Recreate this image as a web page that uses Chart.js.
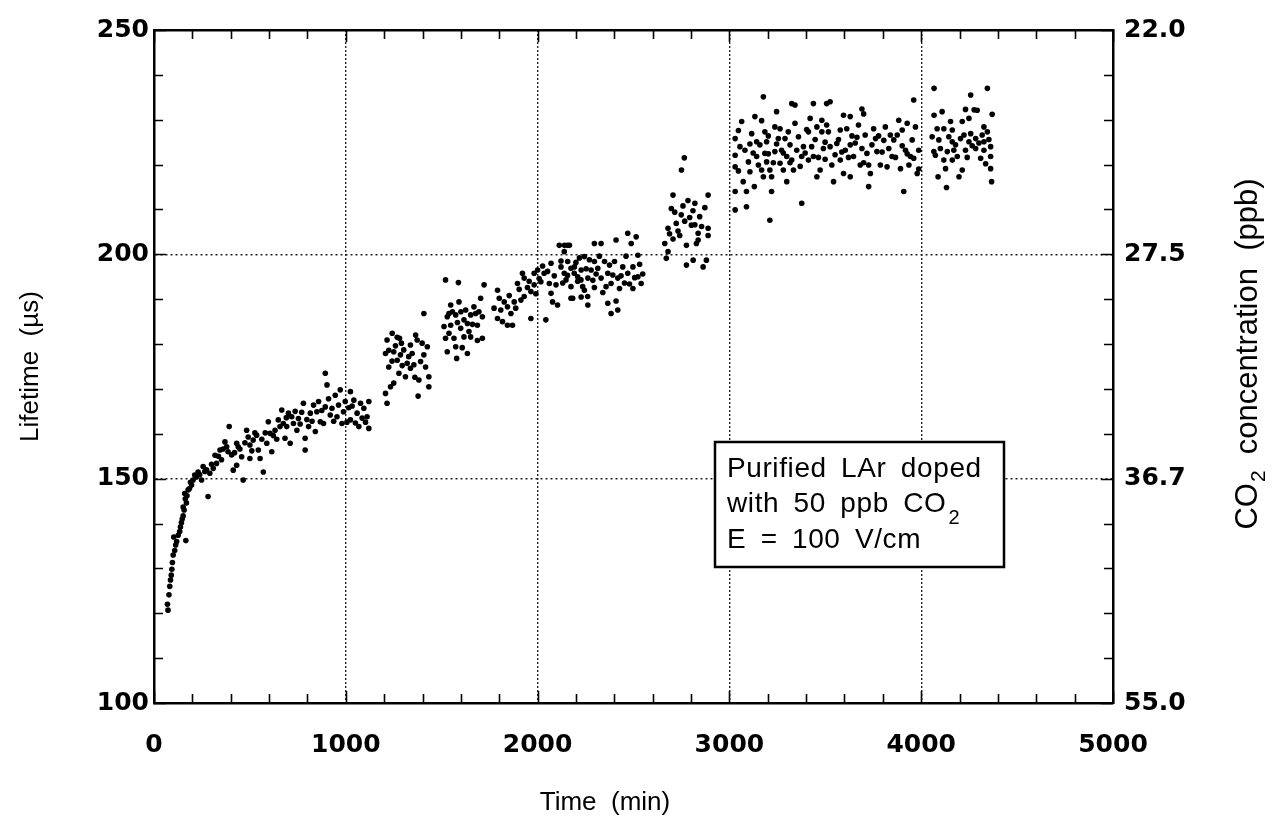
<!DOCTYPE html>
<html>
<head>
<meta charset="utf-8">
<script src="https://cdn.jsdelivr.net/npm/chart.js@4.4.1/dist/chart.umd.min.js"></script>
<style>
    html, body { margin: 0; padding: 0; background: #fff; }
    #wrap { width: 1281px; height: 820px; }
</style>
</head>
<body>
<div id="wrap"><canvas id="lifetimeChart" width="1281" height="820"></canvas></div>
<script>
// Time (min), lifetime (µs), one array per run segment
const runStart = [
    [73,120.7],[78,124.1],[86,127.4],[90,128.5],[96,131.3],[100,133],[103,137],[113,135.2],[126,137.4],[134,138.2],
    [143,140.2],[152,141.7],[152,143.7],[160,146.7],[166,136.2],[169,144.6],[178,147.5],[196,148.6],[204,149.7],[222,150.4],
    [230,151.5],[248,149.7],[256,152.7],[274,152],[282,146],[291,151.2],[309,152.3],[326,153.4],[344,156.4],[352,154.2],
    [370,158.2],[379,157.1],[392,161.6],[405,155.3],[413,151.9],[431,153],[431,157.9],[439,157.1],[457,154.9],[465,149.7],
    [483,160.8],[491,159.3],[500,154.5],[500,157.5],[517,158.6],[535,159.7],[544,156.4],[553,154.5],[570,151.5],[588,157.9],
    [596,162.7],[605,160.1],[614,156],[631,160.8],[648,163.1],[657,161.6],[666,165.3],[683,159],
    [70,122],[82,126],[93,129.8],[108,134],[118,136],[138,139.2],[147,141],[157,143],[163,145.5],[172,146.2],
    [185,147.8],[190,149.2],[212,150.8],[238,150.9],[265,151.6],[300,153.2],[318,155.2],[336,155],[360,156.6],[386,156],
    [420,155.8],[448,156.6],[474,158],[510,156.2],[526,160.2],[562,158.8],[580,160.2],[622,159.6],[640,158.8],[674,162.3],[690,163.6]
];
const runSecond = [
    [692,161.6],[701,164.6],[710,157.9],[727,162.3],[745,160.8],[753,163.4],[779,166.8],[788,159],[788,156.4],[806,161.6],
    [832,166.4],[841,160.5],[849,164.9],[867,162.7],[884,162.3],[893,166],[893,173.5],[902,170.9],[919,164.2],[928,165.7],
    [945,168.6],[954,163.8],[971,169.8],[980,162.3],[988,164.9],[1024,169.4],[1024,163.1],[1042,167.5],[1059,164.6],[1068,161.6],
    [1085,163.5],[1094,165.7],[1111,163.8],[1120,167.2],[1120,161.2],
    [718,163.8],[736,165],[762,162.2],[770,164.8],[797,163.2],[815,164.6],[824,162.8],[858,167.2],[875,165.2],[910,167.8],
    [937,162.8],[962,166.4],[997,167.2],[1006,162.6],[1015,165.8],[1033,166.2],[1050,162.4],[1077,166.8],[1103,162.6]
];
const runThird = [
    [1207,177.9],[1207,169],[1215,180.9],[1215,166.8],[1224,174.9],[1233,170.5],[1250,178.3],[1250,171.3],[1268,181.5],[1268,176.4],
    [1277,173.5],[1280,181.3],[1285,177.6],[1302,178.7],[1311,172.7],[1320,175.7],[1337,179.8],[1337,174.6],[1346,177.9],[1364,182],
    [1372,180.9],[1377,168.4],[1381,172],[1390,176.1],[1407,177.6],[1407,186.8],[1416,174.9],[1425,179.4],[1433,172.7],[1433,170.5],
    [1224,178.6],[1241,176.2],[1259,179.6],[1294,175.2],[1328,177.2],[1355,175.4],[1398,180.2],[1242,182.4],[1290,180.2],[1360,172.6]
];
const runFourth = [
    [1512,183.9],[1520,194.3],[1520,181.3],[1529,186.1],[1529,178.3],[1547,188.7],[1547,184.2],[1564,181.3],[1573,186.5],[1573,179.4],
    [1578,176.8],[1587,193.7],[1590,189.4],[1599,183.5],[1607,179.2],[1616,185.4],[1616,181.6],[1634,184.6],[1634,177.9],[1651,186.5],
    [1651,181.6],[1668,188.3],[1686,184.2],[1686,180.8],[1703,190.2],[1712,186.1],[1712,181.3],[1721,193.2],
    [1538,182.4],[1556,187.2],[1582,184.8],[1625,187.6],[1642,182.8],[1660,184.4],[1677,186.8],[1694,187.2],[1538,186.8],[1600,187.2]
];
const runFifth = [
    [1773,188],[1791,192],[1791,185.7],[1808,187.6],[1817,185],[1843,188.3],[1843,184.2],[1861,186.8],[1869,184.2],[1878,189.4],
    [1886,188],[1895,193.5],[1913,189.8],[1921,195.8],[1930,190.6],[1930,194.7],[1956,194],[1965,191.7],[1965,185.7],[1982,193.2],
    [1982,195.8],[2000,196.5],[2017,193.9],[2034,195.8],[2043,185.4],[2061,193.5],[2070,191.3],[2070,198],[2078,189.4],[2104,188.7],
    [2113,202],[2122,197.2],[2122,198.5],[2139,195.8],[2139,200.6],[2140,202],[2148,194.3],[2156,195.3],[2156,202],[2157,198.4],
    [2166,202],[2174,196.9],[2174,190.2],[2174,192.8],[2183,190.2],[2191,195.8],[2192,197.2],[2209,194],[2209,195],[2226,194.3],
    [2227,196.5],[2227,190.5],[2235,192.8],[2244,192],[2244,199.5],[2261,190.6],[2262,194.7],[2262,188.7],[2279,196.5],[2296,202.4],
    [2296,198.4],[2296,192.6],[2314,196.9],[2331,202.4],[2331,194.7],[2340,191.5],[2349,198.4],[2357,192.8],[2366,195.8],[2366,189.1],
    [2383,193.5],[2383,186.8],[2401,198.4],[2409,203.2],[2409,189.6],[2418,194.7],[2418,187.6],[2427,192.4],[2444,197.2],[2470,204.7],
    [2470,195.8],[2488,202.4],[2497,197.2],[2497,192.4],[2514,203.9],[2523,199.8],[2523,195],[2540,193.5],
    [1800,190.2],[1826,189.4],[1852,190.8],[1904,192.2],[1947,192.6],[1991,191.2],[2008,194.6],[2026,197.4],[2052,196.2],[2087,195.2],
    [2096,193.2],[2131,193.6],[2200,198.2],[2218,199.2],[2253,196.8],[2270,198.8],[2288,194.2],[2305,195.6],[2322,199.6],[2375,197.6],
    [2392,195.4],[2435,195.2],[2453,193.6],[2461,199.6],[2479,193.4],[2506,194.8],[2532,197.8],[2548,195.6]
];
const runSixth = [
    [2663,202.4],[2671,199.1],[2680,205.8],[2680,200.6],[2688,204.6],[2697,210.2],[2706,213.2],[2723,206.9],[2732,205.2],[2749,208.8],
    [2750,218.8],[2765,221.5],[2767,207.4],[2776,202],[2776,197.6],[2784,212],[2802,206.5],[2810,209.7],[2811,198.7],[2820,211.4],
    [2828,202.4],[2837,204.7],[2837,203.2],[2845,208.4],[2863,197.2],[2880,198.7],[2889,213.2],[2889,205.8],[2889,204.2],
    [2715,209.4],[2741,204.2],[2758,210.8],[2793,208.2],[2855,206.2],[2872,210.4],[2706,203.4],[2820,206.6]
];
const runSeventh = [
    [3030,225.8],[3055,224],[3030,222.1],[3030,219.5],[3030,214],[3030,209.9],[3089,210.6],[3064,229.6],[3089,214],[3072,216.2],
    [3107,218.4],[3099,220.6],[3116,226.9],[3133,230.7],[3142,221.8],[3142,225.1],[3151,219.9],[3177,235.1],[3168,218.8],[3177,217.3],
    [3130,215.1],[3185,227.3],[3194,225.1],[3185,222.5],[3194,220.6],[3211,218.8],[3220,217.3],[3220,214],[3211,207.6],[3237,228.4],
    [3246,231.8],[3264,228],[3255,225.8],[3237,222.9],[3272,223.2],[3264,220.3],[3281,218.8],[3299,216.2],[3290,225.8],[3307,227.3],
    [3316,224.4],[3325,221],[3334,218.8],[3325,233.6],[3342,233.3],[3342,229.2],[3351,223.2],[3377,211.4],[3377,221.8],[3386,224],
    [3412,227.3],[3421,230.3],[3412,221],[3429,224],[3438,233.6],[3438,221.8],[3456,217.3],[3464,221.6],[3482,229.9],[3482,227.3],
    [3490,223.6],[3499,225],[3473,218.8],[3507,233.6],[3525,234],[3507,228.8],[3516,227.3],[3525,224],[3534,219.9],[3543,216.2],
    [3560,224.7],[3578,227.7],[3578,221],[3595,231],[3595,218],[3604,223.2],[3612,228],[3630,230.7],[3630,217.3],[3630,224.4],
    [3647,221.8],[3665,226.1],[3673,228.8],[3682,219.9],[3691,232.4],[3700,231.3],[3708,226.6],[3717,222.5],[3726,219.9],[3735,218],
    [3726,215.1],[3752,228],[3762,225.8],[3769,222.9],[3787,219.9],[3813,228.4],[3822,219.5],[3831,223.6],[3848,221.8],[3857,225.5],
    [3875,226.6],[3883,229.9],[3892,219.1],[3901,227.7],[3909,214],[3918,223.2],[3927,229.2],[3936,219.9],[3944,221.8],[3953,225.5],
    [3961,234.4],[3970,228.4],[3979,218],[3987,223.2],[3987,219],
    [3047,218.6],[3081,223.2],[3124,222.6],[3159,224.4],[3203,222.4],[3229,220.4],[3246,224.6],[3281,222.6],[3299,221.8],[3316,220.4],
    [3360,226.2],[3369,219.6],[3395,222.6],[3403,227.8],[3447,225.6],[3456,228.4],[3499,221.2],[3551,222.2],[3569,225.6],[3586,222.8],
    [3621,221.6],[3639,226.4],[3656,224.8],[3691,223.6],[3700,220.4],[3743,224.4],[3778,226.4],[3796,222.8],[3805,225.4],[3839,226.6],
    [3866,221.6],[3901,224.2],[3927,222.4],[3961,221.4],[3047,227.6],[3107,224.6],[3168,229.8],[3203,226.4]
];
const runLast = [
    [4057,226.2],[4066,222.9],[4067,237],[4067,231],[4074,222.1],[4083,228],[4088,217.3],[4092,225.5],[4109,231.8],[4118,228],
    [4118,221],[4127,219.1],[4132,214.9],[4136,222.9],[4153,229.6],[4162,227.7],[4162,225.1],[4162,221],[4179,224.4],[4188,221.8],
    [4197,217.3],[4205,225.8],[4214,229.6],[4214,218.8],[4231,232.3],[4231,223.2],[4249,230.3],[4249,225.1],[4258,235.5],[4258,226.9],
    [4276,232.2],[4284,225.8],[4284,223.6],[4292,232.1],[4318,226.6],[4327,228.4],[4327,225.1],[4327,223.2],[4345,237],[4345,227.3],
    [4362,224],[4362,221.8],[4362,219.1],[4367,216.2],[4370,231.2],
    [4100,223.6],[4144,226.2],[4170,223.2],[4223,226.6],[4240,221.6],[4266,224.2],[4301,224.8],[4310,221.4],[4336,220.2],[4353,225.6]
];

// Axes
const timeTicks = [0, 1000, 2000, 3000, 4000, 5000];
const lifetimeTicks = [100, 150, 200, 250];
const co2TickLabels = ['55.0', '36.7', '27.5', '22.0']; // matches lifetimeTicks
const annotationLines = ['Purified LAr doped', 'with 50 ppb CO', 'E = 100 V/cm'];

const allRuns = [runStart, runSecond, runThird, runFourth, runFifth, runSixth, runSeventh, runLast];
const points = allRuns.flat().map(p => ({ x: p[0], y: p[1] }));

const tickFont = { family: 'DejaVu Sans', size: 25, weight: 'bold' };
const labelFont = '26px "Liberation Sans", Arial, sans-serif';

// frame ticks (pointing inward), axis titles and the text box
const decorPlugin = {
    id: 'decor',
    afterDraw(chart) {
        const ctx = chart.ctx;
        const xs = chart.scales.x;
        const ys = chart.scales.y;
        const a = chart.chartArea;
        ctx.save();
        ctx.strokeStyle = '#000';
        ctx.lineWidth = 1.6;
        ctx.beginPath();
        for (let v = 0; v <= 5000; v += 200) {
            const px = Math.round(xs.getPixelForValue(v)) + 0.5;
            const len = v % 1000 === 0 ? 12 : 9;
            ctx.moveTo(px, a.bottom); ctx.lineTo(px, a.bottom - len);
            ctx.moveTo(px, a.top); ctx.lineTo(px, a.top + len);
        }
        for (let v = 100; v <= 250; v += 10) {
            const py = Math.round(ys.getPixelForValue(v)) + 0.5;
            const len = v % 50 === 0 ? 12 : 9;
            ctx.moveTo(a.left, py); ctx.lineTo(a.left + len, py);
            ctx.moveTo(a.right, py); ctx.lineTo(a.right - len, py);
        }
        ctx.stroke();

        // axis titles
        ctx.fillStyle = '#000';
        ctx.font = labelFont;
        ctx.textBaseline = 'middle';
        ctx.textAlign = 'center';
        ctx.fillText('Time  (min)', 605, 803);

        ctx.save();
        ctx.translate(31, (a.top + a.bottom) / 2);
        ctx.rotate(-Math.PI / 2);
        ctx.fillText('Lifetime  (µs)', 0, 0);
        ctx.restore();

        ctx.save();
        ctx.translate(1248, 354);
        ctx.rotate(-Math.PI / 2);
        ctx.textAlign = 'left';
        const bigFont = '31px "Liberation Sans", Arial, sans-serif';
        const subFont = '21px "Liberation Sans", Arial, sans-serif';
        const partA = 'CO', partB = '  concentration  (ppb)';
        ctx.font = bigFont;
        const wA = ctx.measureText(partA).width;
        const wB = ctx.measureText(partB).width;
        ctx.font = subFont;
        const wS = ctx.measureText('2').width;
        const start = -(wA + wS + wB) / 2;
        ctx.font = bigFont;
        ctx.fillText(partA, start, 0);
        ctx.fillText(partB, start + wA + wS, 0);
        ctx.font = subFont;
        ctx.fillText('2', start + wA + 1, 11);
        ctx.restore();

        // text box
        const bx = 715, by = 442, bw = 289, bh = 125;
        ctx.fillStyle = '#fff';
        ctx.fillRect(bx, by, bw, bh);
        ctx.lineWidth = 2.5;
        ctx.strokeRect(bx, by, bw, bh);
        ctx.fillStyle = '#000';
        ctx.textAlign = 'left';
        ctx.textBaseline = 'alphabetic';
        ctx.font = '28px "Liberation Sans", Arial, sans-serif';
        ctx.letterSpacing = '0.6px';
        ctx.wordSpacing = '6px';
        ctx.fillText(annotationLines[0], 727, 477);
        ctx.fillText(annotationLines[1], 727, 512);
        const w2 = ctx.measureText(annotationLines[1]).width;
        ctx.fillText(annotationLines[2], 727, 548);
        ctx.font = '20px "Liberation Sans", Arial, sans-serif';
        ctx.fillText('2', 727 + w2 + 2, 524);
        ctx.letterSpacing = '0px';
        ctx.wordSpacing = '0px';
        ctx.restore();
    }
};

const ctx = document.getElementById('lifetimeChart').getContext('2d');
new Chart(ctx, {
    type: 'scatter',
    data: {
        datasets: [{
            label: 'Lifetime',
            data: points,
            backgroundColor: '#000',
            borderWidth: 0,
            pointRadius: 2.8,
            pointHoverRadius: 2.8
        }]
    },
    options: {
        responsive: false,
        animation: false,
        layout: { padding: 0 },
        plugins: {
            legend: { display: false },
            tooltip: { enabled: false }
        },
        scales: {
            x: {
                type: 'linear',
                position: 'bottom',
                min: 0,
                max: 5000,
                afterBuildTicks: s => { s.ticks = timeTicks.map(v => ({ value: v })); },
                afterFit: s => { s.height = 117; },
                ticks: { font: tickFont, color: '#000', padding: 27, maxRotation: 0, callback: v => String(v) },
                grid: { color: '#222', lineWidth: 1.4, drawTicks: false },
                border: { color: '#000', width: 2.5, dash: [2, 2] }
            },
            xTop: {
                type: 'linear',
                position: 'top',
                min: 0,
                max: 5000,
                afterFit: s => { s.height = 30; },
                ticks: { display: false },
                grid: { display: false, drawTicks: false },
                border: { color: '#000', width: 2.5 }
            },
            y: {
                type: 'linear',
                position: 'left',
                min: 100,
                max: 250,
                afterBuildTicks: s => { s.ticks = lifetimeTicks.map(v => ({ value: v })); },
                afterFit: s => { s.width = 154; },
                ticks: { font: tickFont, color: '#000', padding: 5, callback: v => String(v) },
                grid: { color: '#222', lineWidth: 1.4, drawTicks: false },
                border: { color: '#000', width: 2.5, dash: [2, 3] }
            },
            yRight: {
                type: 'linear',
                position: 'right',
                min: 100,
                max: 250,
                afterBuildTicks: s => { s.ticks = lifetimeTicks.map(v => ({ value: v })); },
                afterFit: s => { s.width = 168; },
                ticks: {
                    font: tickFont,
                    color: '#000',
                    padding: 11,
                    callback: v => co2TickLabels[lifetimeTicks.indexOf(v)]
                },
                grid: { display: false, drawTicks: false },
                border: { color: '#000', width: 2.5 }
            }
        }
    },
    plugins: [decorPlugin]
});
</script>
</body>
</html>
